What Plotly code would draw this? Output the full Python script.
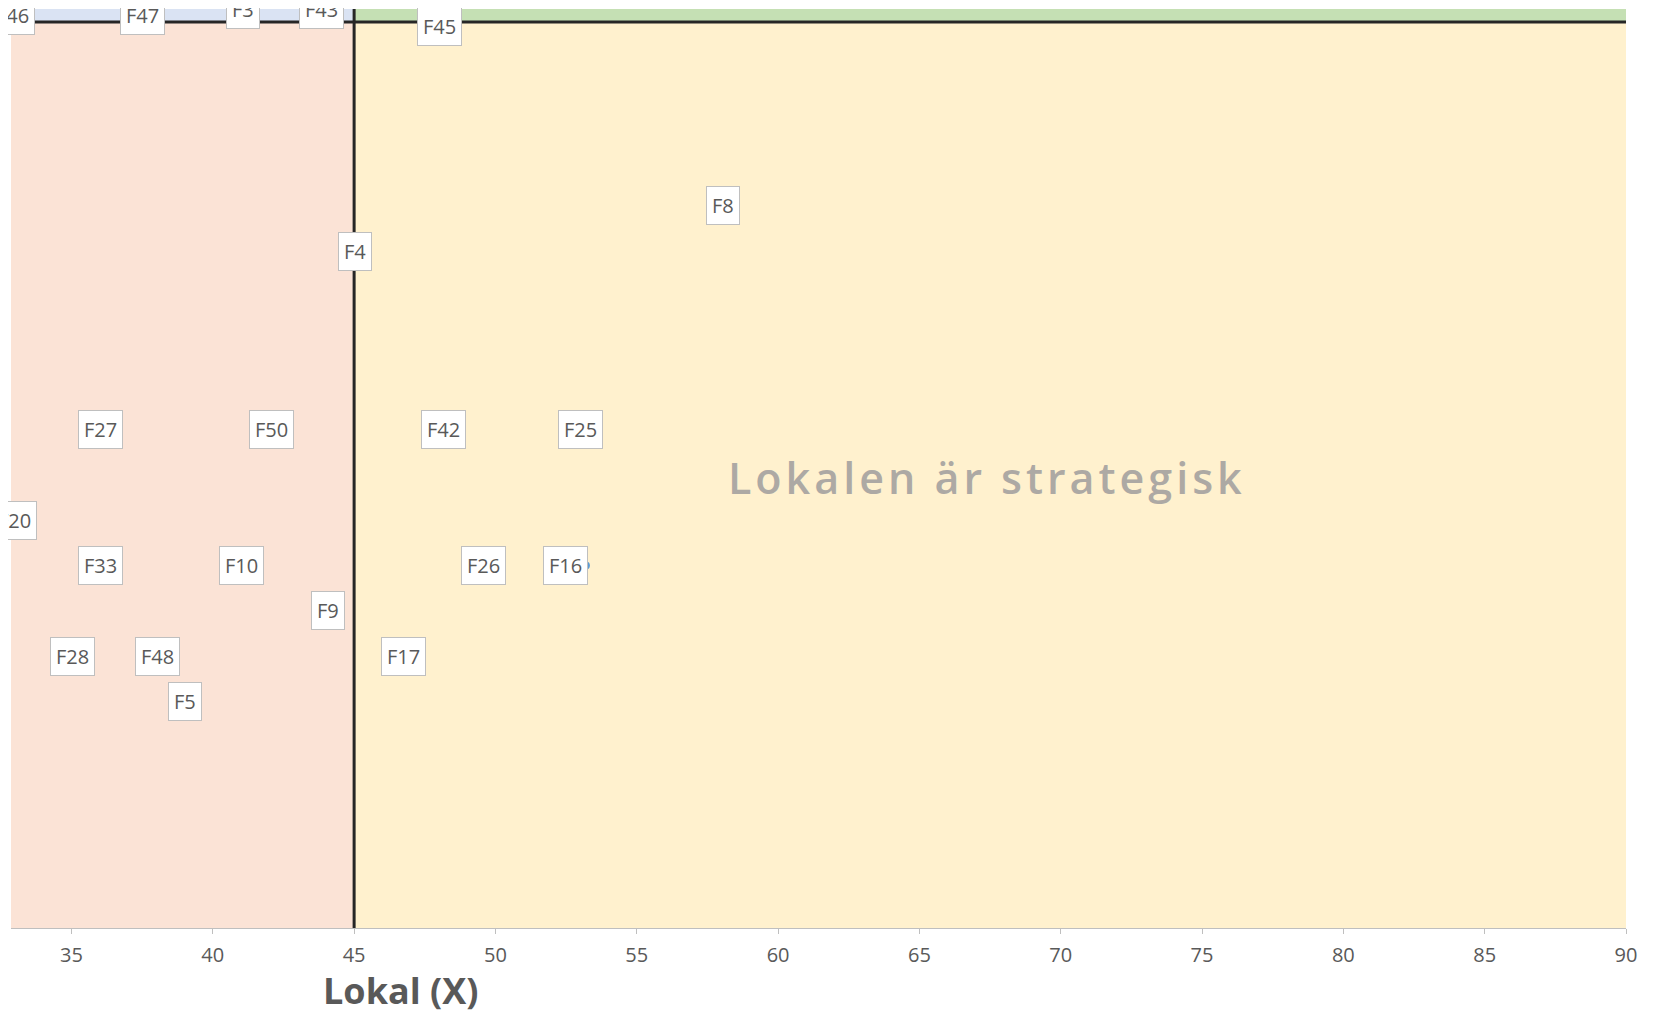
import plotly.graph_objects as go

# ---- data ----
labels = ["F46", "F47", "F3", "F43", "F45", "F8", "F4", "F27", "F50", "F42", "F25",
          "F20", "F33", "F10", "F26", "F16", "F9", "F28", "F48", "F17", "F5"]
x_vals = [32.93, 37.53, 41.07, 43.84, 48.03, 58.04, 45.04, 36.04, 42.06, 48.15, 53.02,
          32.97, 36.04, 41.00, 49.57, 53.20, 44.06, 35.04, 38.03, 46.74, 39.01]
y_vals = [45.15, 45.15, 45.27, 45.27, 44.91, 40.95, 39.94, 36.0, 36.0, 36.0, 36.0,
          34.0, 33.0, 33.0, 33.0, 33.0, 32.0, 31.0, 31.0, 31.0, 30.0]

x_split = 45
y_split = 45
x_range = [32.86, 90]
y_range = [25, 45.287]
x_ticks = [35, 40, 45, 50, 55, 60, 65, 70, 75, 80, 85, 90]

quadrant_text = "Lokalen är strategisk"
quadrant_text_pos = (67.4, 34.95)
x_title = "Lokal (X)"

# ---- styles ----
label_shift = {"F16": -20}
LABEL_FONT = dict(family="Open Sans, sans-serif", size=20, color="#595959")

fig = go.Figure()

fig.add_trace(go.Scatter(
    x=x_vals, y=y_vals, mode="markers",
    marker=dict(size=8, color="#5B9BD5"),
    hoverinfo="text", text=labels, showlegend=False, cliponaxis=False,
))

# quadrant fills
shapes = [
    dict(type="rect", xref="x", yref="y", x0=x_range[0], x1=x_split, y0=y_range[0], y1=y_split,
         fillcolor="#FBE3D6", line_width=0, layer="below"),
    dict(type="rect", xref="x", yref="y", x0=x_split, x1=x_range[1], y0=y_range[0], y1=y_split,
         fillcolor="#FFF1CE", line_width=0, layer="below"),
    dict(type="rect", xref="x", yref="y", x0=x_range[0], x1=x_split, y0=y_split, y1=y_range[1],
         fillcolor="#DAE3F3", line_width=0, layer="below"),
    dict(type="rect", xref="x", yref="y", x0=x_split, x1=x_range[1], y0=y_split, y1=y_range[1],
         fillcolor="#C5E0B4", line_width=0, layer="below"),
    dict(type="line", xref="x", yref="y", x0=x_split, x1=x_split, y0=y_range[0], y1=y_range[1],
         line=dict(color="#262626", width=3), layer="above"),
    dict(type="line", xref="x", yref="y", x0=x_range[0], x1=x_range[1], y0=y_split, y1=y_split,
         line=dict(color="#262626", width=3), layer="above"),
]

annotations = []
for lab, xv, yv in zip(labels, x_vals, y_vals):
    annotations.append(dict(
        x=xv, y=yv, xref="x", yref="y", text=lab, showarrow=False,
        xshift=label_shift.get(lab, 0),
        bgcolor="white", bordercolor="#BFBFBF", borderwidth=1, borderpad=5,
        font=LABEL_FONT,
    ))

annotations.append(dict(
    x=quadrant_text_pos[0], y=quadrant_text_pos[1], xref="x", yref="y",
    text='<span style="letter-spacing:4px">%s</span>' % quadrant_text, showarrow=False,
    font=dict(family="Open Sans, sans-serif", size=43, weight=600, color="#ADA9A4"),
))

annotations.append(dict(
    x=46.64, y=-0.0675, xref="x", yref="paper", text="<b>%s</b>" % x_title,
    showarrow=False, yanchor="middle",
    font=dict(family="Open Sans, sans-serif", size=36, color="#595959"),
))

fig.update_layout(
    width=1653, height=1011,
    margin=dict(l=2.6, r=35, t=1, b=91),
    paper_bgcolor="white", plot_bgcolor="white",
    shapes=shapes, annotations=annotations,
    xaxis=dict(range=x_range, tickvals=x_ticks, showgrid=False, zeroline=False,
               showline=True, linecolor="#BFBFBF", linewidth=1,
               ticks="outside", ticklen=5, tickcolor="#BFBFBF",
               tickfont=dict(family="Open Sans, sans-serif", size=20, color="#595959"),
               ticklabelstandoff=4),
    yaxis=dict(range=y_range, showgrid=False, zeroline=False, showline=False,
               showticklabels=False, ticks=""),
)

fig.write_html("out.html")
